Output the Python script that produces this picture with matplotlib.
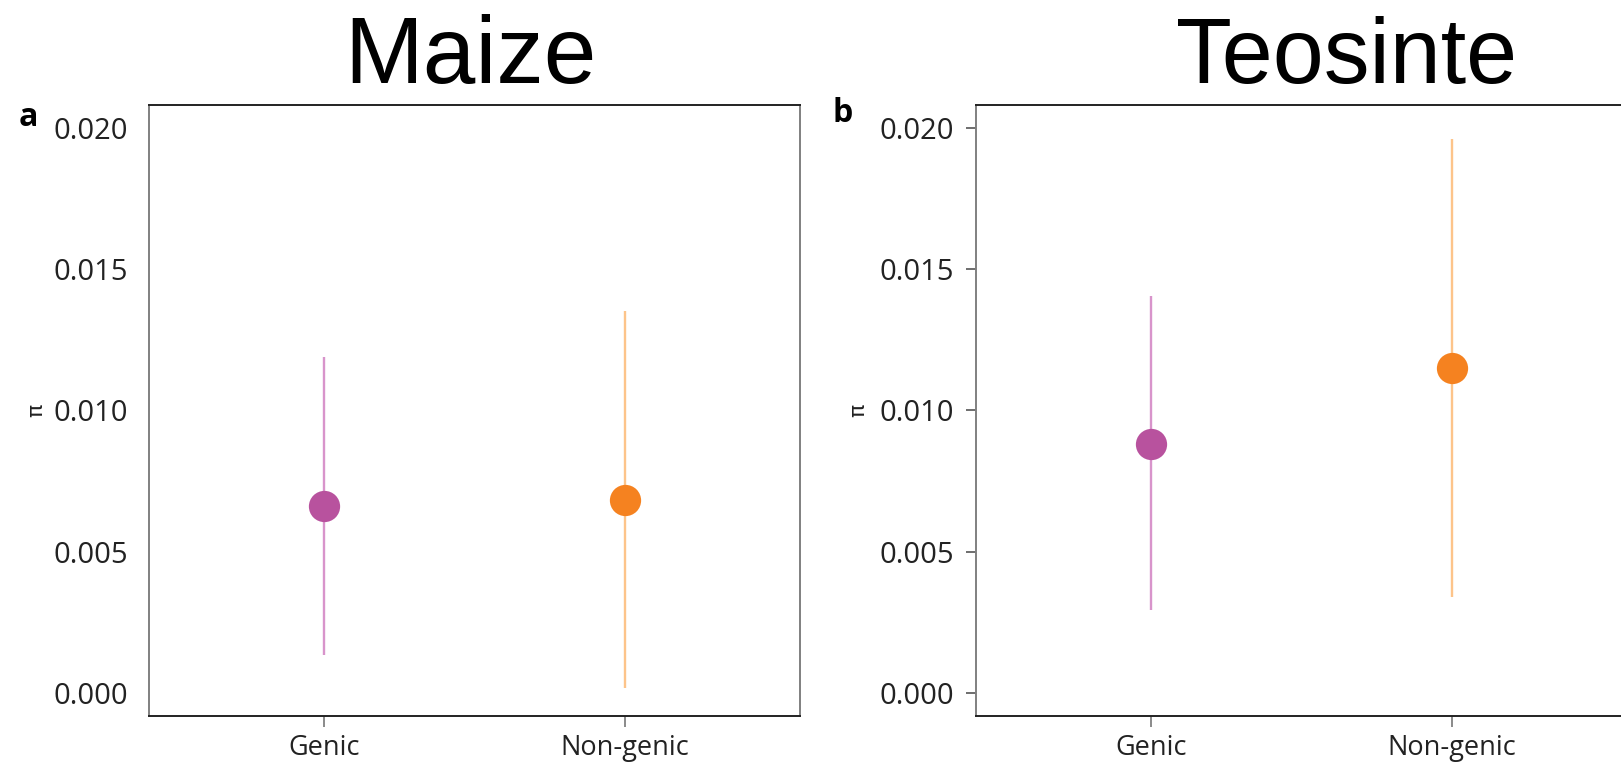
import numpy as np
import matplotlib.pyplot as plt

# values (pi per group)
groups = ["Genic", "Non-genic"]
maize_mean = [0.00663, 0.00685]
maize_low = [0.00134, 0.00020]
maize_high = [0.01190, 0.01351]
teo_mean = [0.00880, 0.01150]
teo_low = [0.00296, 0.00340]
teo_high = [0.01406, 0.01960]
yticks = [0.000, 0.005, 0.010, 0.015, 0.020]

point_cols = ["#B8529E", "#F58220"]
line_cols = ["#D894CB", "#FDC48A"]

fig = plt.figure(figsize=(16.21, 7.63), dpi=100)
axa = fig.add_axes([149 / 1621, 1 - 716 / 763, 651 / 1621, 611 / 763])
axb = fig.add_axes([976 / 1621, 1 - 716 / 763, 651 / 1621, 611 / 763])

x = np.arange(1, len(groups) + 1)

for ax, mean, low, high in [(axa, maize_mean, maize_low, maize_high),
                            (axb, teo_mean, teo_low, teo_high)]:
    for i in range(len(groups)):
        ax.plot([x[i], x[i]], [low[i], high[i]], color=line_cols[i], lw=1.7,
                solid_capstyle="butt", zorder=2)
        ax.plot(x[i], mean[i], "o", color=point_cols[i], ms=22.5, mec="none", zorder=3)
    ax.set_xlim(0.42, 2.58)
    ax.set_ylim(-0.0008, 0.0208)
    ax.set_xticks(x)
    ax.set_xticklabels(groups, family="Open Sans", fontsize=19.5, color="#222222")
    ax.set_yticks(yticks)
    ax.set_yticklabels(["%.3f" % v for v in yticks], family="Open Sans", fontsize=21,
                       color="#222222")
    ax.tick_params(axis="x", length=8, width=1.2, color="#777777", pad=5)
    for side in ["left", "right"]:
        ax.spines[side].set_color("#808080")
        ax.spines[side].set_linewidth(1.4)
    for side in ["top", "bottom"]:
        ax.spines[side].set_color("#222222")
        ax.spines[side].set_linewidth(1.4)

axa.tick_params(axis="y", length=0, pad=15)
axb.tick_params(axis="y", length=7, width=1.2, color="#555555", pad=8.5)

# y labels and panel letters
fig.text(36 / 1621, 1 - 410 / 763, "π", rotation=90, ha="center", va="center",
         fontsize=16, family="DejaVu Sans", color="#222222")
fig.text(858 / 1621, 1 - 410 / 763, "π", rotation=90, ha="center", va="center",
         fontsize=16, family="DejaVu Sans", color="#222222")
fig.text(28 / 1621, 1 - 118 / 763, "a", ha="center", va="center", fontsize=23,
         fontweight="bold", family="Open Sans")
fig.text(843 / 1621, 1 - 114 / 763, "b", ha="center", va="center", fontsize=23,
         fontweight="bold", family="Open Sans")

# titles
fig.text(470 / 1621, 1 - 83 / 763, "Maize", ha="center", va="baseline", fontsize=68,
         family="Liberation Sans")
fig.text(1347 / 1621, 1 - 83 / 763, "Teosinte", ha="center", va="baseline", fontsize=66,
         family="Liberation Sans")

fig.savefig("out.png", dpi=100)
